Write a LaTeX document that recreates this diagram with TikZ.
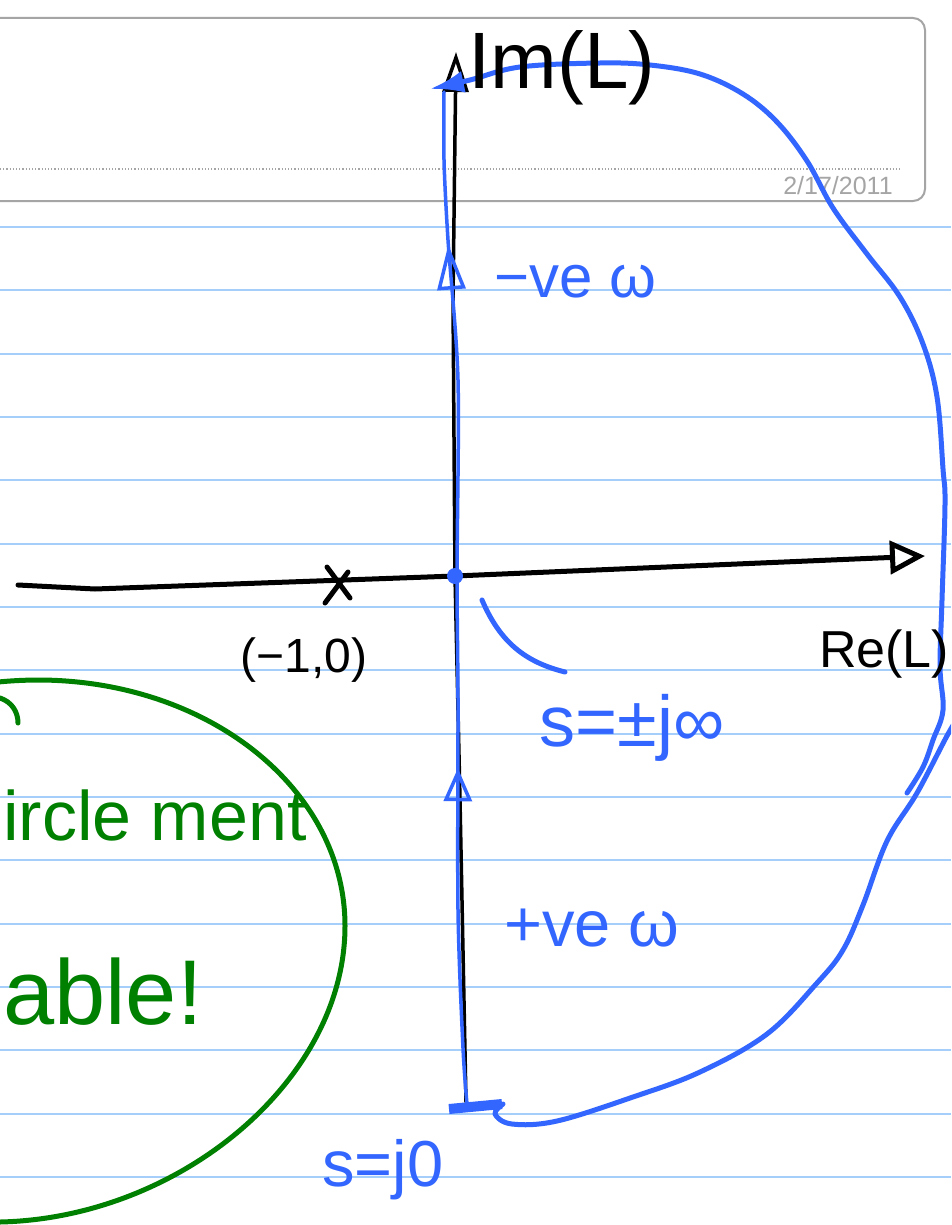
\documentclass[tikz,border=0pt]{standalone}
\usepackage{fontspec}
\setmainfont{Liberation Sans}
\usetikzlibrary{arrows.meta,decorations.markings}
\definecolor{inkblue}{RGB}{51,102,255}
\definecolor{inkgreen}{RGB}{0,128,0}
\definecolor{rulecol}{RGB}{166,206,250}
\definecolor{framegray}{RGB}{165,165,165}
\tikzset{
  ink/.style={line width=5pt, line cap=round, line join=round},
  hand/.style={inner sep=0pt, font=\fontsize{#1}{#1}\selectfont},
}
\begin{document}
\begin{tikzpicture}[x=1pt, y=-1pt]
    \useasboundingbox (0,0) rectangle (951,1225);
    \clip (0,0) rectangle (951,1225);
    \fill[white] (0,0) rectangle (951,1225);

    \foreach \k in {0,...,15}
        \draw[rulecol, line width=2pt] (0,227+63.33*\k) -- (951,227+63.33*\k);

    \draw[framegray, line width=2pt, rounded corners=12pt] (-20,18) rectangle (925,201);
    \draw[framegray, line width=1.2pt, dotted] (0,169) -- (902,169);
    \node[hand=25, text=framegray] (date) at (838,186) {2/17/2011};

    \coordinate (ImTop) at (456,52);
    \coordinate (ImBot) at (466,1102);
    \coordinate (ReLeft) at (18,585);
    \coordinate (ReRight) at (925,556);
    \coordinate (O) at (455,576);

    \draw[ink, line width=5pt, -{Triangle[open, length=35pt, width=33pt]}] (ReLeft) -- (95,589) -- (O) -- (ReRight);
    \draw[ink, line width=3.5pt, -{Triangle[open, length=40pt, width=26pt]}] (ImBot) -- (460,800) -- (O) -- (453,300) -- (ImTop);

    \draw[ink] (327,567) -- (350,598);
    \draw[ink] (348,572) -- (325,603);

    \draw[ink, inkblue, line width=3.5pt, postaction=decorate,
        decoration={markings,
            mark=at position 336pt with {\arrow{Triangle[open, length=33pt, width=28pt]}},
            mark=at position 860pt with {\arrow{Triangle[open, length=45pt, width=28pt]}}}]
        plot[smooth] coordinates {(467,1104) (463,1048) (458,910) (458,700) (457,575) (458,380) (448,240) (444,160) (444,92)};

    \draw[ink, inkblue] plot[smooth, tension=0.6] coordinates {(503,1104) (495,1114) (512,1124) (557,1121) (633,1097) (700,1072) (767,1034) (817,983) (843,950) (863,905) (887,841) (917,793) (948,734) (960,715)};
    \draw[ink, inkblue, -{Latex[length=34pt, width=22pt]}] plot[smooth, tension=0.6] coordinates {(907,793) (923,767) (933,740) (943,710) (940,667) (942,600) (945,504) (943,469) (937,397) (923,344) (900,297) (867,254) (833,208) (807,161) (777,122) (743,94) (700,74) (650,65) (600,63) (520,67) (470,80) (430,89)};
    \draw[inkblue, line width=10pt] (449,1109) -- (502,1104);
    \fill[inkblue] (O) circle (8pt);
    \draw[ink, inkblue] (482,600) .. controls (500,642) and (525,662) .. (565,672);

    \draw[ink, inkgreen] (345,926) .. controls (345,790) and (210,681) .. (40,680)
        .. controls (-150,680) and (-280,800) .. (-280,950)
        .. controls (-280,1120) and (-150,1225) .. (0,1222)
        .. controls (180,1218) and (345,1080) .. (345,926) -- cycle;
    \draw[ink, inkgreen] (0,698) .. controls (12,702) and (18,712) .. (18,723);

    \node[hand=80] (imlabel) at (562,68) {Im(L)};
    \node[hand=52] (relabel) at (884,654) {Re(L)};
    \node[hand=48] (pointlabel) at (304,660) {(−1,0)};
    \node[hand=60, text=inkblue] (negw) at (575,282) {−ve ω};
    \node[hand=72, text=inkblue] (sinf) at (632,728) {s=±j∞};
    \node[hand=65, text=inkblue] (posw) at (592,928) {+ve ω};
    \node[hand=65, text=inkblue] (szero) at (383,1170) {s=j0};
    \node[hand=70, text=inkgreen, anchor=west] (encirc) at (3,815) {ircle ment};
    \node[hand=92, text=inkgreen, anchor=west] (stab) at (3,992) {able!};
\end{tikzpicture}
\end{document}
